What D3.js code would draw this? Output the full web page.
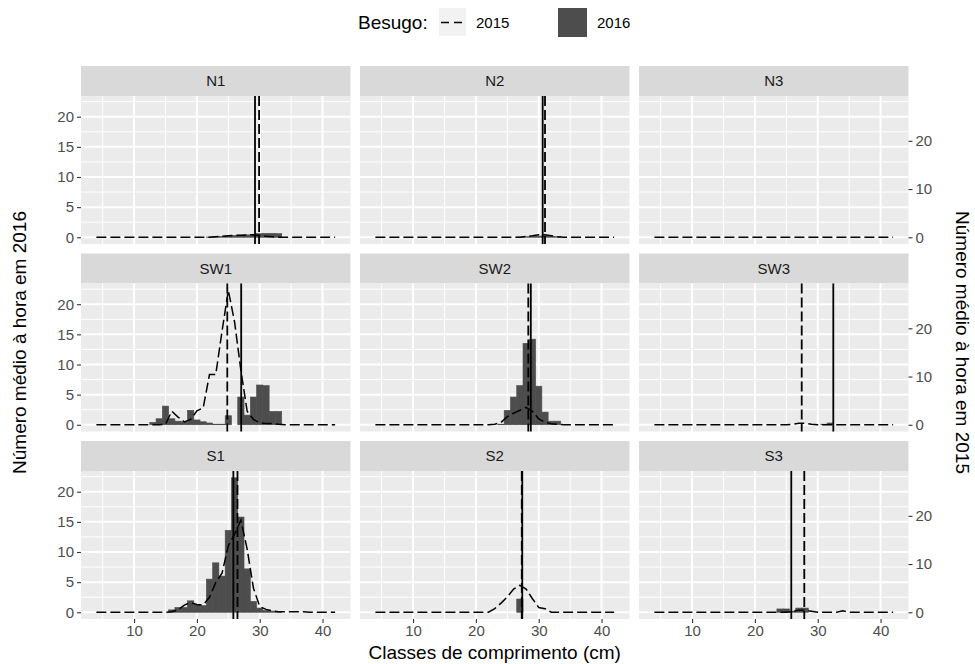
<!DOCTYPE html>
<html>
<head>
<meta charset="utf-8">
<script src="https://cdn.jsdelivr.net/npm/d3@7"></script>
<style>
  body { margin: 0; background: #fff; }
  text { font-family: "Liberation Sans", Arial, sans-serif; }
</style>
</head>
<body>
<div id="viz"><svg></svg></div>
<script>
// length classes (cm)
const classes = [4,5,6,7,8,9,10,11,12,13,14,15,16,17,18,19,20,21,22,23,24,25,26,27,28,29,30,31,32,33,34,35,36,37,38,39,40,41,42];
const stations = ['N1','N2','N3','SW1','SW2','SW3','S1','S2','S3'];

// mean number per hour, 2016 (bars), one value per class
const n1_2016  = [0,0,0,0,0,0,0,0,0,0, 0,0,0,0,0,0,0,0,0.05,0.1, 0.15,0.2,0.3,0.35,0.4,0.45,0.6,0.65,0.65,0.6, 0,0,0,0,0,0,0,0,0];
const n2_2016  = [0,0,0,0,0,0,0,0,0,0, 0,0,0,0,0,0,0,0,0,0, 0,0,0,0.05,0.1,0.15,0.2,0.25,0.15,0.1, 0,0,0,0,0,0,0,0,0];
const n3_2016  = [0,0,0,0,0,0,0,0,0,0, 0,0,0,0,0,0,0,0,0,0, 0,0,0,0,0,0,0,0,0,0, 0,0,0,0,0,0,0,0,0];
const sw1_2016 = [0,0,0,0,0,0,0,0,0,0.4, 1.0,3.1,1.0,0.6,0.5,2.4,0.8,0.5,0.3,0.1, 0.1,1.5,0,4.6,1.6,4.6,6.6,6.5,2.2,2.2, 0,0,0,0,0,0,0,0,0];
const sw2_2016 = [0,0,0,0,0,0,0,0,0,0, 0,0,0,0,0,0,0,0,0,0, 0.1,2.4,4.6,6.5,13.5,14.2,6.4,2.1,0.6,0.6, 0,0,0,0,0,0,0,0,0];
const sw3_2016 = [0,0,0,0,0,0,0,0,0,0, 0,0,0,0,0,0,0,0,0,0, 0,0,0,0,0,0,0,0.1,0.3,0, 0,0,0,0,0,0,0,0,0];
const s1_2016  = [0,0,0,0,0,0,0,0,0,0, 0,0,0.4,0.8,0.8,1.9,1.3,1.1,5.5,8.2, 6.0,13.6,22.3,15.8,7.2,1.8,0.7,0.3,0.2,0.1, 0,0,0,0,0,0,0,0,0];
const s2_2016  = [0,0,0,0,0,0,0,0,0,0, 0,0,0,0,0,0,0,0,0,0, 0,0,0,2.2,0,0,0,0,0,0, 0,0,0,0,0,0,0,0,0];
const s3_2016  = [0,0,0,0,0,0,0,0,0,0, 0,0,0,0,0,0,0,0,0,0, 0.55,0.55,0.2,0.7,0.7,0,0,0,0,0, 0,0,0,0,0,0,0,0,0];

// mean number per hour, 2015 (dashed line, right axis)
const n1_2015  = [0,0,0,0,0,0,0,0,0,0, 0,0,0,0,0,0,0,0,0,0.1, 0.2,0.3,0.4,0.4,0.5,0.5,0.4,0.2,0.1,0, 0,0,0,0,0,0,0,0,0];
const n2_2015  = [0,0,0,0,0,0,0,0,0,0, 0,0,0,0,0,0,0,0,0,0, 0,0,0,0,0.2,0.3,0.5,0.5,0.3,0.1, 0,0,0,0,0,0,0,0,0];
const n3_2015  = [0,0,0,0,0,0,0,0,0,0, 0,0,0,0,0,0,0,0,0,0, 0,0,0,0,0,0,0,0,0,0, 0,0,0,0,0,0,0,0,0];
const sw1_2015 = [0,0,0,0,0,0,0,0,0,0, 0,0.1,2.8,1.6,0.6,1.1,2.9,3.5,10.4,10.4, 19.4,27.9,21.3,11.3,2.8,1.1,0.4,0.25,0.25,0.1, 0,0,0,0,0,0,0,0,0];
const sw2_2015 = [0,0,0,0,0,0,0,0,0,0, 0,0,0,0,0,0,0,0,0,0.1, 0.5,1.7,2.4,3.0,3.6,2.8,1.2,0.5,0.2,0.1, 0,0,0,0,0,0,0,0,0];
const sw3_2015 = [0,0,0,0,0,0,0,0,0,0, 0,0,0,0,0,0,0,0,0,0, 0,0,0.1,0.3,0.3,0.1,0,0,0,0, 0,0,0,0,0,0,0,0,0];
const s1_2015  = [0,0,0,0,0,0,0,0,0,0, 0,0,0.1,0.5,1.5,2.0,1.6,1.5,3.1,6.2, 8.1,13.8,16.2,19.1,13.1,5.0,1.2,0.6,0.3,0.1, 0.1,0.1,0.1,0.1,0,0,0,0,0];
const s2_2015  = [0,0,0,0,0,0,0,0,0,0, 0,0,0,0,0,0,0,0,0,0.75, 1.9,3.2,4.8,5.6,4.8,2.8,1.0,0.75,0,0, 0,0,0,0,0,0,0,0,0];
const s3_2015  = [0,0,0,0,0,0,0,0,0,0, 0,0,0,0,0,0,0,0,0,0, 0,0,0.2,0.4,0.4,0.2,0,0,0,0, 0.3,0,0,0,0,0,0,0,0];

// mean length per station (vertical lines)
const mean2016 = [29.25, 30.63, null, 27.05, 28.74, 32.48, 25.8, 27.38, 25.79];
const mean2015 = [29.9, 31.0, null, 24.84, 28.34, 27.45, 26.46, 27.3, 27.86];

const xTicks = [10,20,30,40];
const yTicks = [0,5,10,15,20];
const y2Ticks = [0,10,20];
const secRatio = 1.25;   // right axis = left axis * 1.25

const bars2016 = [n1_2016,n2_2016,n3_2016,sw1_2016,sw2_2016,sw3_2016,s1_2016,s2_2016,s3_2016];
const lines2015 = [n1_2015,n2_2015,n3_2015,sw1_2015,sw2_2015,sw3_2015,s1_2015,s2_2015,s3_2015];

const SETTINGS = {
    width: 975, height: 664,
    left: 81, top: 66,
    panelW: 269.5, panelH: 148, strip: 30, gap: 9.5,
    tickFont: 15, titleFont: 19
};
const COLOR = { panel:'#ebebeb', strip:'#d9d9d9', bar:'#4d4d4d', tick:'#4d4d4d', text:'#1a1a1a' };

let svg = d3.select('#viz').select('svg')
    .attr('width', SETTINGS.width)
    .attr('height', SETTINGS.height);

// scales shared by all panels (fixed scales)
let xLo = d3.min(classes) - 0.5, xHi = d3.max(classes) + 0.5;
let xPad = (xHi - xLo) * 0.05;
let xScale = d3.scaleLinear()
    .domain([xLo - xPad, xHi + xPad])
    .range([0, SETTINGS.panelW]);

let yMax = d3.max([d3.max(bars2016.flat()), d3.max(lines2015.flat()) / secRatio]);
let yPad = yMax * 0.05;
let yScale = d3.scaleLinear()
    .domain([-yPad, yMax + yPad])
    .range([SETTINGS.panelH, 0]);
let y2Scale = d3.scaleLinear()
    .domain([-yPad * secRatio, (yMax + yPad) * secRatio])
    .range([SETTINGS.panelH, 0]);

function styleAxis(g){
    g.select('.domain').remove();
    g.selectAll('.tick line').attr('stroke', '#333333').attr('stroke-width', 1.1);
    g.selectAll('.tick text')
        .attr('fill', COLOR.tick)
        .attr('font-size', SETTINGS.tickFont)
        .attr('font-family', '"Liberation Sans", Arial, sans-serif');
}

function drawPanel(i){
    let col = i % 3, row = Math.floor(i / 3);
    let px = SETTINGS.left + col * (SETTINGS.panelW + SETTINGS.gap);
    let stripY = SETTINGS.top + row * (SETTINGS.strip + SETTINGS.panelH + SETTINGS.gap);
    let py = stripY + SETTINGS.strip;

    // strip
    svg.append('rect')
        .attr('x', px).attr('y', stripY)
        .attr('width', SETTINGS.panelW).attr('height', SETTINGS.strip)
        .attr('fill', COLOR.strip);
    svg.append('text')
        .attr('x', px + SETTINGS.panelW / 2)
        .attr('y', stripY + SETTINGS.strip / 2)
        .attr('dy', '0.36em')
        .attr('text-anchor', 'middle')
        .attr('font-size', SETTINGS.tickFont)
        .attr('fill', COLOR.text)
        .text(stations[i]);

    let g = svg.append('g').attr('transform', `translate(${px},${py})`);
    g.append('rect')
        .attr('width', SETTINGS.panelW).attr('height', SETTINGS.panelH)
        .attr('fill', COLOR.panel);

    // grid
    let xMinor = xTicks.map(d => d - 5).concat([45]).filter(d => d > xScale.domain()[0] && d < xScale.domain()[1]);
    let yMinor = yTicks.map(d => d + 2.5).filter(d => d < yScale.domain()[1]);
    g.selectAll('.xminor').data(xMinor).enter().append('line')
        .attr('x1', d => xScale(d)).attr('x2', d => xScale(d))
        .attr('y1', 0).attr('y2', SETTINGS.panelH)
        .attr('stroke', '#fff').attr('stroke-width', 1);
    g.selectAll('.yminor').data(yMinor).enter().append('line')
        .attr('x1', 0).attr('x2', SETTINGS.panelW)
        .attr('y1', d => yScale(d)).attr('y2', d => yScale(d))
        .attr('stroke', '#fff').attr('stroke-width', 1);
    g.selectAll('.xmajor').data(xTicks).enter().append('line')
        .attr('x1', d => xScale(d)).attr('x2', d => xScale(d))
        .attr('y1', 0).attr('y2', SETTINGS.panelH)
        .attr('stroke', '#fff').attr('stroke-width', 2);
    g.selectAll('.ymajor').data(yTicks).enter().append('line')
        .attr('x1', 0).attr('x2', SETTINGS.panelW)
        .attr('y1', d => yScale(d)).attr('y2', d => yScale(d))
        .attr('stroke', '#fff').attr('stroke-width', 2);

    // 2016 bars (thin outline in the fill colour so neighbours join up)
    let barData = classes.map((k, j) => ({k: k, v: bars2016[i][j]})).filter(d => d.v > 0);
    g.selectAll('.bar').data(barData).enter().append('rect')
        .attr('class', 'bar')
        .attr('x', d => xScale(d.k - 0.5))
        .attr('width', d => xScale(d.k + 0.5) - xScale(d.k - 0.5))
        .attr('y', d => yScale(d.v))
        .attr('height', d => yScale(0) - yScale(d.v))
        .attr('fill', COLOR.bar)
        .attr('stroke', COLOR.bar)
        .attr('stroke-width', 0.6);

    // 2015 dashed line
    let line = d3.line()
        .x((d, j) => xScale(classes[j]))
        .y(d => y2Scale(d));
    g.append('path')
        .datum(lines2015[i])
        .attr('d', line)
        .attr('fill', 'none')
        .attr('stroke', '#000')
        .attr('stroke-width', 1.5)
        .attr('stroke-dasharray', '10,4');

    // means
    if (mean2016[i] != null){
        g.append('line')
            .attr('x1', xScale(mean2016[i])).attr('x2', xScale(mean2016[i]))
            .attr('y1', 0).attr('y2', SETTINGS.panelH)
            .attr('stroke', '#000').attr('stroke-width', 1.8);
    }
    if (mean2015[i] != null){
        g.append('line')
            .attr('x1', xScale(mean2015[i])).attr('x2', xScale(mean2015[i]))
            .attr('y1', 0).attr('y2', SETTINGS.panelH)
            .attr('stroke', '#000').attr('stroke-width', 1.8)
            .attr('stroke-dasharray', '10,4');
    }

    // axes
    if (col == 0){
        g.append('g')
            .call(d3.axisLeft(yScale).tickValues(yTicks).tickSize(4).tickPadding(3))
            .call(styleAxis);
    }
    if (col == 2){
        g.append('g')
            .attr('transform', `translate(${SETTINGS.panelW},0)`)
            .call(d3.axisRight(y2Scale).tickValues(y2Ticks).tickSize(4).tickPadding(3))
            .call(styleAxis);
    }
    if (row == 2){
        g.append('g')
            .attr('transform', `translate(0,${SETTINGS.panelH})`)
            .call(d3.axisBottom(xScale).tickValues(xTicks).tickSize(4).tickPadding(2))
            .call(styleAxis);
    }
}

stations.forEach((s, i) => drawPanel(i));

// axis titles
let plotMidY = SETTINGS.top + (3 * (SETTINGS.strip + SETTINGS.panelH) + 2 * SETTINGS.gap) / 2;
let plotMidX = SETTINGS.left + (3 * SETTINGS.panelW + 2 * SETTINGS.gap) / 2;

svg.append('text')
    .attr('x', plotMidX).attr('y', 659)
    .attr('text-anchor', 'middle')
    .attr('font-size', SETTINGS.titleFont)
    .attr('fill', '#000')
    .text('Classes de comprimento (cm)');

svg.append('text')
    .attr('transform', `translate(26,${plotMidY}) rotate(-90)`)
    .attr('text-anchor', 'middle')
    .attr('font-size', SETTINGS.titleFont)
    .attr('fill', '#000')
    .text('Número médio à hora em 2016');

svg.append('text')
    .attr('transform', `translate(956,${plotMidY}) rotate(90)`)
    .attr('text-anchor', 'middle')
    .attr('font-size', SETTINGS.titleFont)
    .attr('fill', '#000')
    .text('Número médio à hora em 2015');

// legend
let legend = svg.append('g');
legend.append('text')
    .attr('x', 358).attr('y', 29)
    .attr('font-size', SETTINGS.titleFont)
    .attr('fill', '#000')
    .text('Besugo:');
legend.append('rect')
    .attr('x', 439).attr('y', 8).attr('width', 27).attr('height', 28)
    .attr('fill', '#f2f2f2');
legend.append('line')
    .attr('x1', 441).attr('x2', 465).attr('y1', 22.5).attr('y2', 22.5)
    .attr('stroke', '#000').attr('stroke-width', 1.5)
    .attr('stroke-dasharray', '8,5');
legend.append('text')
    .attr('x', 476).attr('y', 28)
    .attr('font-size', SETTINGS.tickFont)
    .attr('fill', '#000')
    .text('2015');
legend.append('rect')
    .attr('x', 558).attr('y', 8).attr('width', 29).attr('height', 29)
    .attr('fill', COLOR.bar);
legend.append('text')
    .attr('x', 597).attr('y', 28)
    .attr('font-size', SETTINGS.tickFont)
    .attr('fill', '#000')
    .text('2016');
</script>
</body>
</html>
